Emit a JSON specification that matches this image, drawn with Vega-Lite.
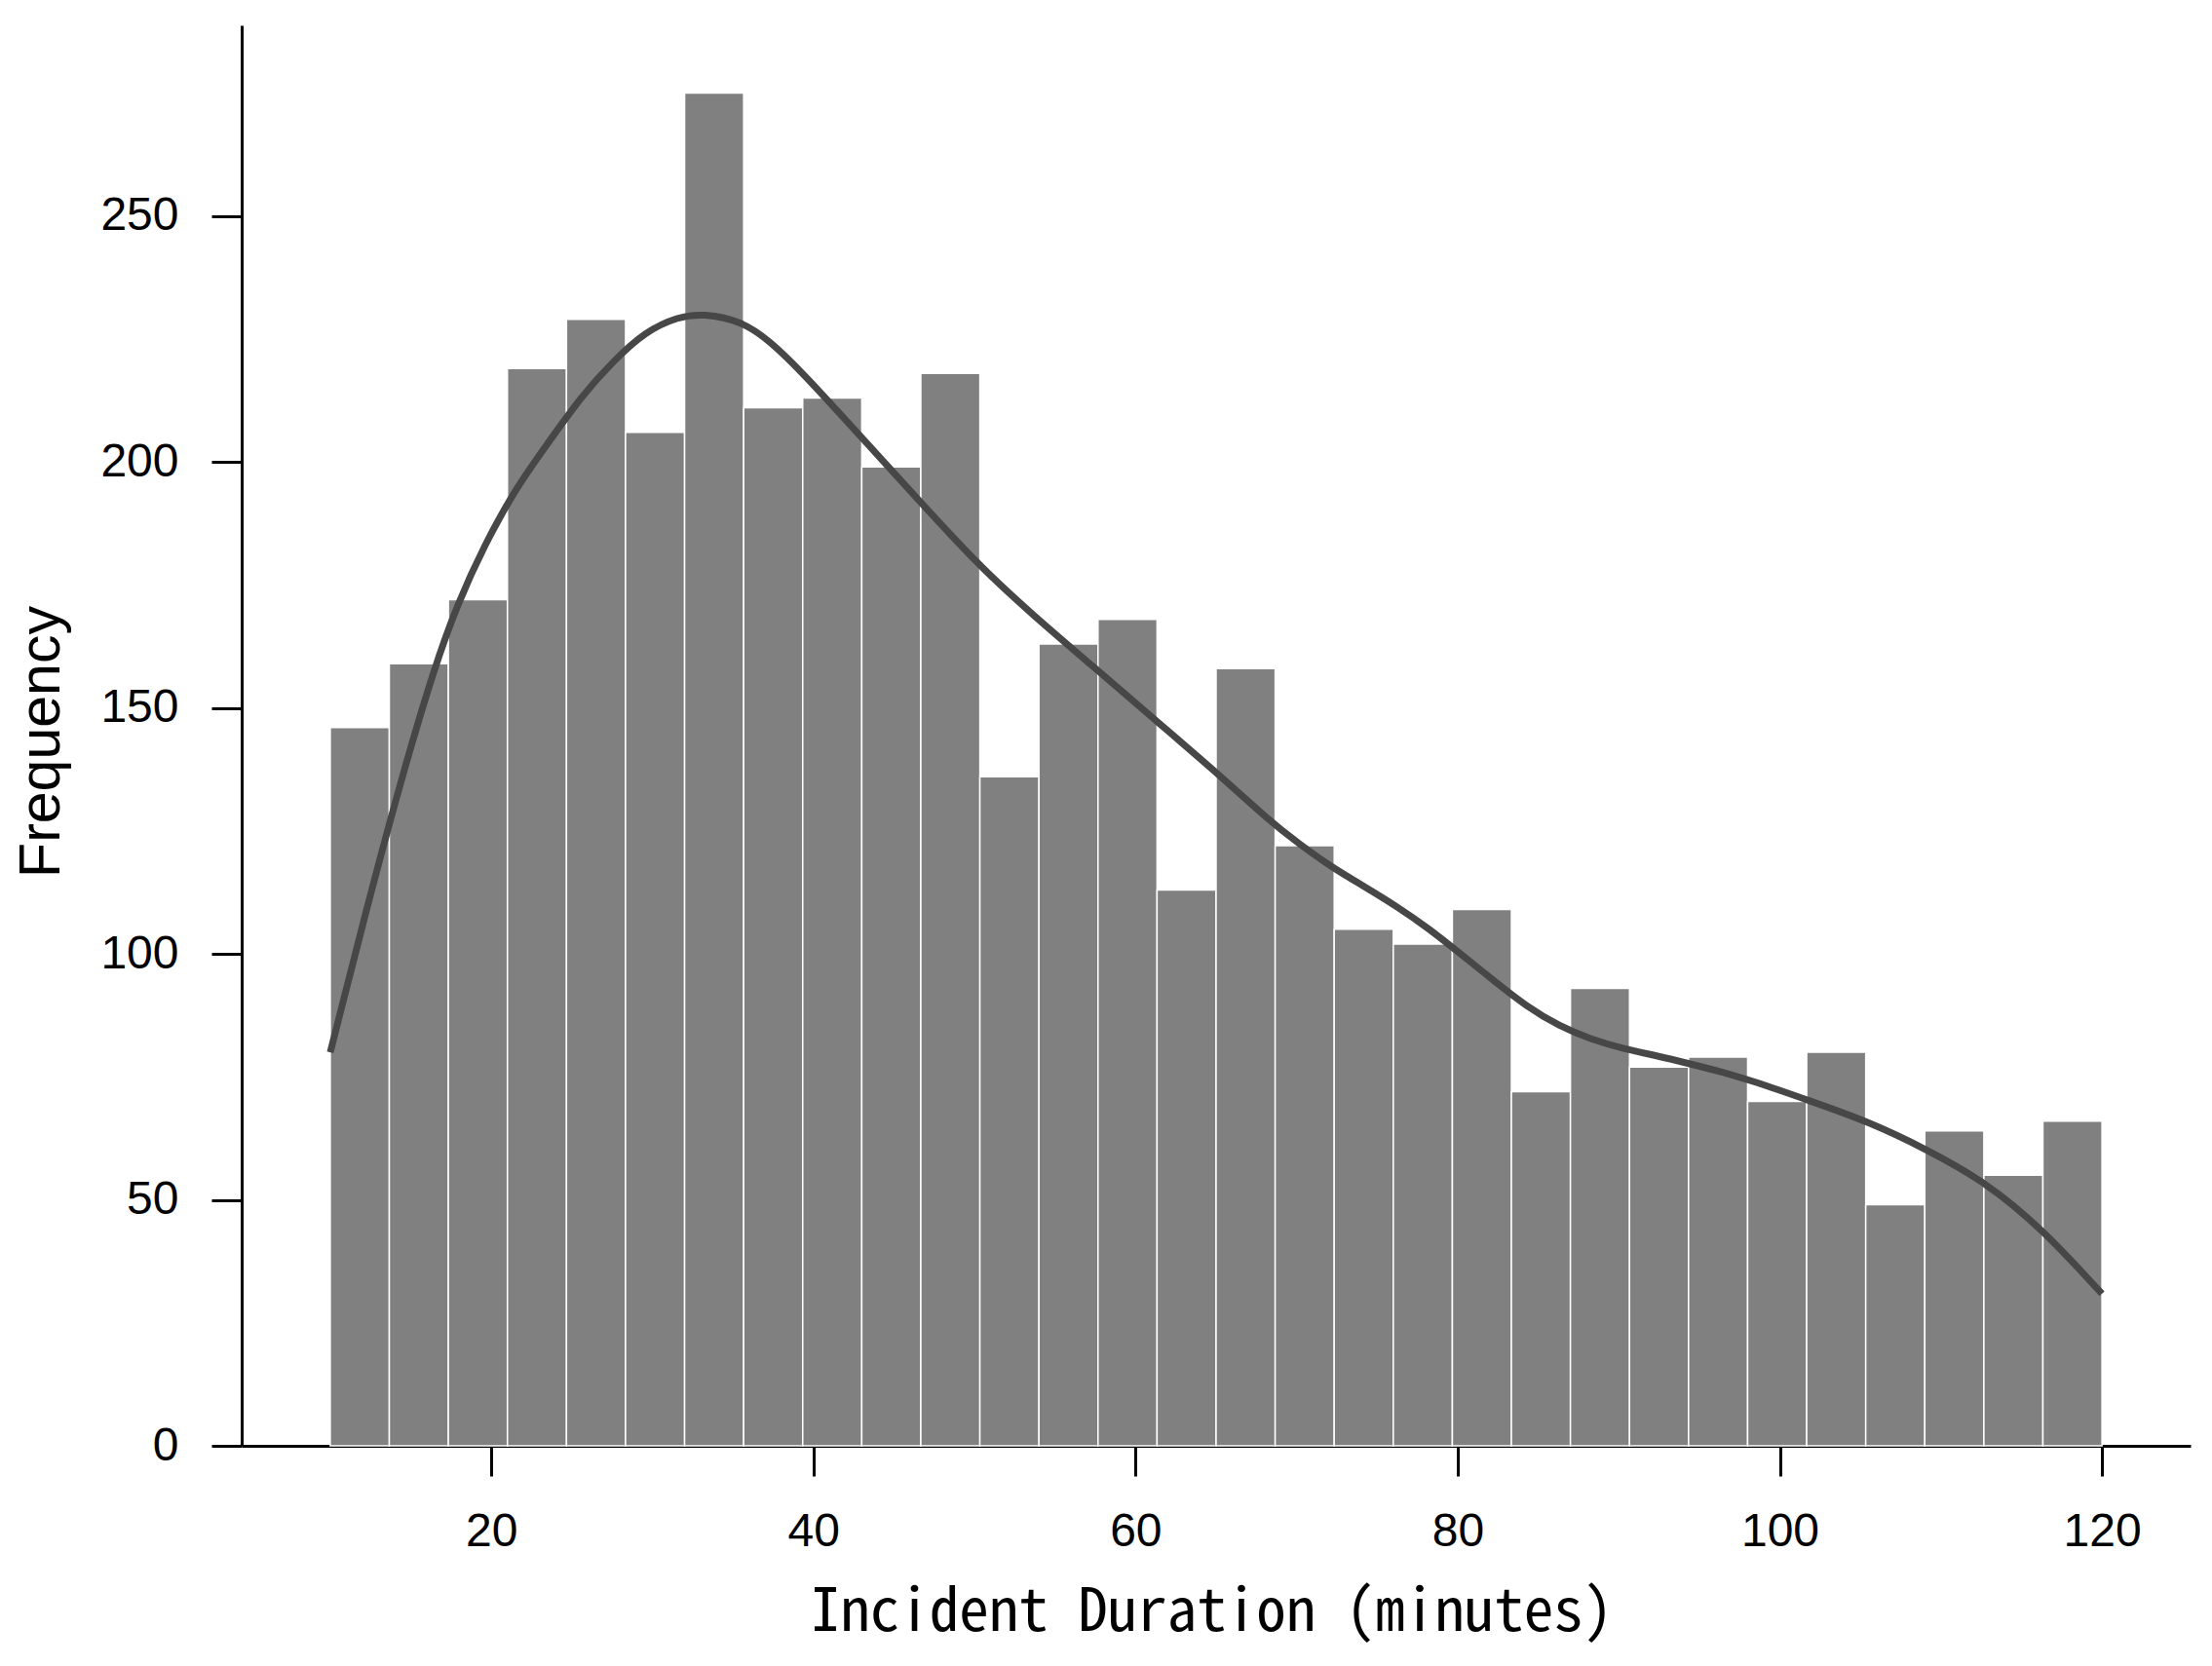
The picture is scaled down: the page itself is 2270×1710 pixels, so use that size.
{
  "$schema": "https://vega.github.io/schema/vega-lite/v6.json",
  "width": 2000,
  "height": 1458,
  "autosize": {"type": "none"},
  "padding": {"left": 248, "top": 26, "right": 22, "bottom": 226},
  "background": "white",
  "config": {"view": {"stroke": null}},
  "datasets": {
    "hist": [
      {"start": 10.0, "end": 13.667, "count": 146},
      {"start": 13.667, "end": 17.333, "count": 159},
      {"start": 17.333, "end": 21.0, "count": 172},
      {"start": 21.0, "end": 24.667, "count": 219},
      {"start": 24.667, "end": 28.333, "count": 229},
      {"start": 28.333, "end": 32.0, "count": 206},
      {"start": 32.0, "end": 35.667, "count": 275},
      {"start": 35.667, "end": 39.333, "count": 211},
      {"start": 39.333, "end": 43.0, "count": 213},
      {"start": 43.0, "end": 46.667, "count": 199},
      {"start": 46.667, "end": 50.333, "count": 218},
      {"start": 50.333, "end": 54.0, "count": 136},
      {"start": 54.0, "end": 57.667, "count": 163},
      {"start": 57.667, "end": 61.333, "count": 168},
      {"start": 61.333, "end": 65.0, "count": 113},
      {"start": 65.0, "end": 68.667, "count": 158},
      {"start": 68.667, "end": 72.333, "count": 122},
      {"start": 72.333, "end": 76.0, "count": 105},
      {"start": 76.0, "end": 79.667, "count": 102},
      {"start": 79.667, "end": 83.333, "count": 109},
      {"start": 83.333, "end": 87.0, "count": 72},
      {"start": 87.0, "end": 90.667, "count": 93},
      {"start": 90.667, "end": 94.333, "count": 77},
      {"start": 94.333, "end": 98.0, "count": 79},
      {"start": 98.0, "end": 101.667, "count": 70},
      {"start": 101.667, "end": 105.333, "count": 80},
      {"start": 105.333, "end": 109.0, "count": 49},
      {"start": 109.0, "end": 112.667, "count": 64},
      {"start": 112.667, "end": 116.333, "count": 55},
      {"start": 116.333, "end": 120.0, "count": 66}
    ],
    "kde": [
      {"x": 10.0, "y": 80},
      {"x": 12.2, "y": 108.5},
      {"x": 14.4, "y": 135.5},
      {"x": 16.5, "y": 158.6},
      {"x": 17.9, "y": 171.1},
      {"x": 19.55, "y": 183.0},
      {"x": 21.56, "y": 194.9},
      {"x": 23.58, "y": 204.1},
      {"x": 25.6, "y": 213.4},
      {"x": 27.6, "y": 220.6},
      {"x": 29.6, "y": 226.6},
      {"x": 31.6, "y": 229.5},
      {"x": 33.1, "y": 230.2},
      {"x": 35.6, "y": 228.6},
      {"x": 37.3, "y": 224.5},
      {"x": 39.1, "y": 219.0},
      {"x": 44.65, "y": 199.0},
      {"x": 50.2, "y": 179.0},
      {"x": 53.7, "y": 168.7},
      {"x": 57.3, "y": 158.6},
      {"x": 61.3, "y": 147.3},
      {"x": 65.3, "y": 136.1},
      {"x": 68.15, "y": 127.5},
      {"x": 70.17, "y": 122.3},
      {"x": 72.18, "y": 117.6},
      {"x": 74.2, "y": 113.7},
      {"x": 76.2, "y": 109.7},
      {"x": 78.23, "y": 105.1},
      {"x": 80.25, "y": 99.8},
      {"x": 82.26, "y": 94.5},
      {"x": 84.28, "y": 89.3},
      {"x": 86.3, "y": 85.3},
      {"x": 88.3, "y": 82.6},
      {"x": 90.3, "y": 80.7},
      {"x": 92.35, "y": 79.3},
      {"x": 94.36, "y": 77.7},
      {"x": 96.4, "y": 76.0},
      {"x": 98.4, "y": 74.1},
      {"x": 101.8, "y": 70.2},
      {"x": 105.5, "y": 65.9},
      {"x": 109.1, "y": 60.3},
      {"x": 112.7, "y": 53.8},
      {"x": 116.3, "y": 44.1},
      {"x": 120.0, "y": 30.9}
    ]
  },
  "layer": [
    {
      "data": {"name": "hist"},
      "mark": {"type": "rect", "fill": "#808080", "stroke": "#ffffff", "strokeWidth": 1.5},
      "encoding": {
        "x": {
          "field": "start", "type": "quantitative",
          "scale": {"domain": [4.5, 125.5], "nice": false, "zero": false},
          "axis": {
            "values": [20, 40, 60, 80, 100, 120],
            "grid": false,
            "domainColor": "#000000", "domainWidth": 3,
            "tickColor": "#000000", "tickWidth": 3, "tickSize": 31,
            "labelFont": "Liberation Sans", "labelFontSize": 48, "labelColor": "#000000", "labelPadding": 33,
            "title": "Incident Duration (minutes)",
            "titleFont": "Noto Sans Mono CJK SC, DejaVu Sans Mono", "titleFontSize": 61, "titleFontWeight": "normal", "titleColor": "#000000",
            "titleX": 995, "titleY": 189, "titleBaseline": "alphabetic", "titleAlign": "center"
          }
        },
        "x2": {"field": "end"},
        "y": {
          "field": "count", "type": "quantitative",
          "scale": {"domain": [0, 288.75], "nice": false},
          "axis": {
            "values": [0, 50, 100, 150, 200, 250],
            "grid": false,
            "domainColor": "#000000", "domainWidth": 3,
            "tickColor": "#000000", "tickWidth": 3, "tickSize": 31,
            "labelFont": "Liberation Sans", "labelFontSize": 48, "labelColor": "#000000", "labelPadding": 34,
            "title": "Frequency",
            "titleFont": "Liberation Sans", "titleFontSize": 59, "titleFontWeight": "normal", "titleColor": "#000000",
            "titleX": -188, "titleY": 735, "titleBaseline": "alphabetic", "titleAlign": "center", "titleAngle": -90
          }
        }
      }
    },
    {
      "data": {"name": "kde"},
      "mark": {"type": "line", "color": "#474747", "strokeWidth": 7, "interpolate": "basis"},
      "encoding": {
        "x": {"field": "x", "type": "quantitative"},
        "y": {"field": "y", "type": "quantitative"}
      }
    }
  ]
}
